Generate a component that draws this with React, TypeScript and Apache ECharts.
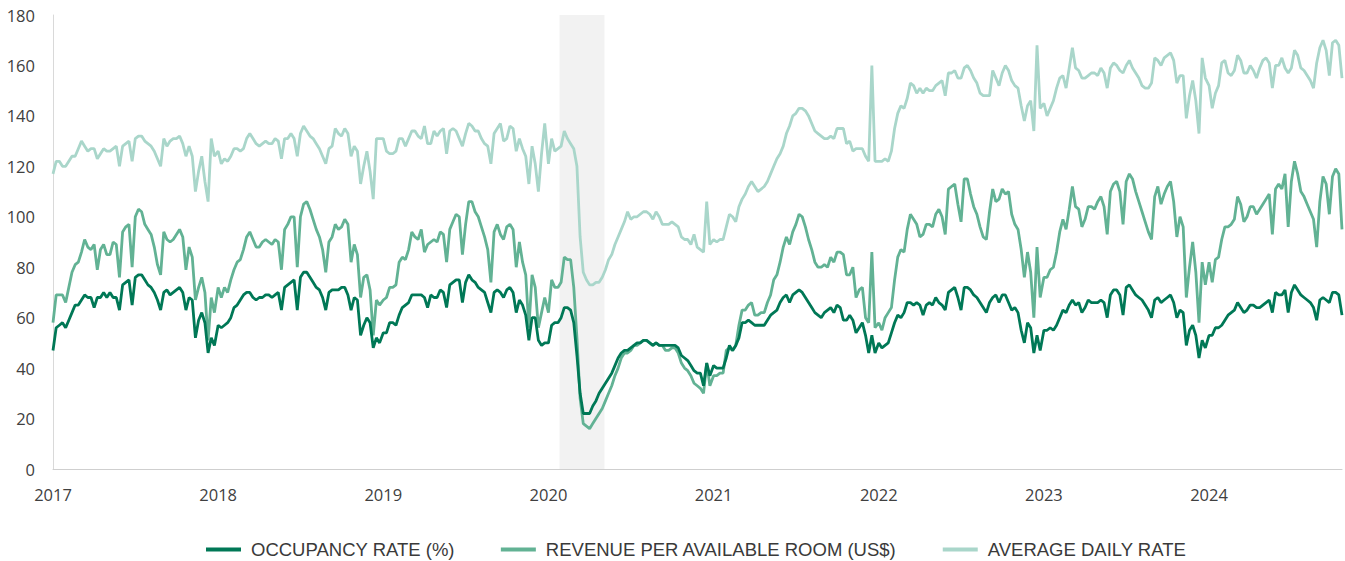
import React, { useEffect, useRef } from "react";
import * as echarts from "echarts";

// Weekly series, one array per calendar year (week index 0..51 within the year)
const years = [2017, 2018, 2019, 2020, 2021, 2022, 2023, 2024];

const occ2017 = [47,56,57,58,56,59,62,65,65,67,69,68,68,64,68,68,70,68,70,68,68,63,73,74,75,65,76,77,77,75,73,72,70,67,63,70,71,69,70,71,72,70,63,68,67,52,59,62,58,46,52,49];
const occ2018 = [57,56,57,58,60,64,65,67,69,70,70,68,67,68,68,69,69,68,69,70,63,72,73,74,75,63,76,78,78,76,74,72,71,68,63,70,71,71,71,72,72,69,63,68,67,53,57,60,58,48,52,50];
const occ2019 = [54,54,58,58,57,61,64,65,66,69,69,69,69,68,64,69,68,68,71,70,64,73,74,75,75,66,74,77,75,74,72,71,70,66,62,70,71,70,68,71,72,70,62,67,65,61,51,60,60,51,49,50];
const occ2020 = [50,57,58,58,60,64,64,63,58,45,30,22,22,22,25,27,30,32,34,36,38,41,44,46,47,47,48,49,50,50,51,51,50,49,50,49,49,49,49,49,49,48,45,44,43,41,39,38,38,33,42,37];
const occ2021 = [41,40,40,40,44,49,47,49,52,58,58,59,58,57,57,57,57,59,61,62,63,66,68,69,66,69,70,71,70,68,66,64,62,61,60,62,63,64,62,65,64,59,59,61,59,54,56,58,53,46,53,46];
const occ2022 = [50,48,49,50,54,58,61,60,62,66,66,65,66,65,61,65,66,65,68,66,65,63,70,71,72,68,63,72,72,71,69,68,66,64,62,66,68,69,66,69,69,66,63,64,62,55,50,58,56,46,53,47];
const occ2023 = [55,55,56,55,57,60,63,62,65,67,65,66,62,64,67,66,66,66,67,66,60,69,71,71,69,61,72,73,71,69,68,67,65,63,60,67,68,66,67,68,69,66,60,63,62,49,55,57,53,44,51,48];
const occ2024 = [53,53,56,56,57,59,61,62,63,66,64,62,63,65,65,64,64,65,66,67,62,70,69,69,71,62,70,73,71,69,68,67,66,64,59,67,68,67,66,70,70,69,61];

const rev2017 = [58,69,69,69,66,72,78,81,82,86,91,88,87,89,79,87,89,85,85,90,89,76,94,96,97,80,100,103,102,97,95,93,88,81,77,94,91,90,91,93,95,92,79,88,84,67,72,76,70,51,68,62];
const rev2018 = [72,68,72,70,75,79,82,83,87,92,94,91,88,88,90,91,90,89,91,90,79,95,97,100,100,80,100,105,106,103,99,95,92,87,78,90,92,97,95,96,99,97,82,89,85,68,76,77,71,53,67,65];
const rev2019 = [67,68,72,72,73,82,84,83,87,94,92,91,95,86,89,90,91,90,94,93,82,95,98,101,100,85,97,106,106,102,100,96,92,87,74,94,97,93,91,96,97,95,80,90,82,77,56,77,72,56,62,68];
const rev2020 = [62,75,72,72,74,84,83,83,72,52,28,18,17,16,18,20,22,24,27,30,33,37,40,44,46,46,47,49,49,50,51,51,50,49,50,49,49,47,47,48,48,46,42,40,39,37,34,33,32,30,42,33];
const rev2021 = [37,37,38,38,47,48,47,49,57,63,63,65,66,61,61,62,62,66,69,75,77,82,88,92,89,94,97,101,100,96,91,87,82,80,80,81,80,84,82,86,86,85,77,77,80,68,71,72,60,58,86,56];
const rev2022 = [58,55,60,62,64,75,84,87,86,95,101,99,97,92,93,97,97,96,101,103,100,93,111,112,113,105,98,115,115,109,104,101,96,92,91,102,111,106,107,111,109,110,101,97,95,87,76,86,78,60,88,68];
const rev2023 = [76,76,79,80,86,94,99,95,103,112,104,103,96,99,104,104,103,106,108,104,93,110,113,114,110,97,114,117,115,110,106,102,98,94,91,108,112,105,109,112,114,106,92,100,96,68,80,90,78,58,82,73];
const rev2024 = [82,74,83,84,91,96,96,97,99,108,105,98,100,104,104,101,103,105,107,109,93,111,113,111,117,96,114,122,117,110,108,105,102,99,88,106,116,113,101,116,119,117,95];

const adr2017 = [117,122,122,120,120,122,124,124,127,130,128,126,127,127,123,125,127,126,126,127,128,120,128,129,130,122,131,132,132,130,129,128,126,123,120,131,128,130,131,131,132,129,124,128,124,110,118,124,114,106,131,124];
const adr2018 = [126,121,123,122,124,127,127,126,127,131,133,131,129,128,129,130,129,129,131,130,123,131,131,133,131,124,133,136,134,132,131,129,127,124,121,127,128,135,133,132,135,133,124,128,126,113,120,126,118,107,131,131];
const adr2019 = [131,126,125,125,126,131,131,128,131,134,134,132,131,136,129,129,134,132,134,135,125,134,135,134,131,128,133,137,136,134,134,131,129,128,121,133,135,137,130,131,136,135,126,131,127,124,113,128,121,110,125,137];
const adr2020 = [121,131,126,127,128,134,131,129,127,120,92,78,75,73,73,74,74,76,79,83,85,89,92,95,98,102,99,100,100,101,102,102,101,99,102,100,97,97,97,98,97,96,92,91,91,89,93,88,87,86,106,89];
const adr2021 = [91,90,91,91,96,101,100,98,104,107,109,112,114,112,110,111,112,114,117,120,123,125,128,133,136,140,141,143,143,142,140,137,134,133,132,131,131,132,131,135,135,135,129,130,126,127,127,127,124,122,160,122];
const adr2022 = [122,122,123,122,126,135,141,144,143,147,153,152,149,151,149,151,150,150,152,153,154,148,157,157,158,155,155,159,160,158,155,153,149,148,148,148,158,155,152,157,160,158,154,152,151,144,138,144,146,134,168,143];
const adr2023 = [145,140,143,146,151,155,156,151,159,167,159,158,155,155,156,157,157,156,159,157,151,159,161,160,158,157,160,162,159,157,155,152,151,151,153,163,162,160,163,164,165,162,153,156,156,139,148,154,146,133,163,155];
const adr2024 = [152,143,149,152,161,162,157,156,158,164,162,157,157,160,158,155,159,162,163,161,151,160,160,163,159,157,159,166,164,159,158,156,154,151,161,167,170,166,156,169,170,168,155];

const occByYear = [occ2017, occ2018, occ2019, occ2020, occ2021, occ2022, occ2023, occ2024];
const revByYear = [rev2017, rev2018, rev2019, rev2020, rev2021, rev2022, rev2023, rev2024];
const adrByYear = [adr2017, adr2018, adr2019, adr2020, adr2021, adr2022, adr2023, adr2024];

const seriesNames = ["OCCUPANCY RATE (%)", "REVENUE PER AVAILABLE ROOM (US$)", "AVERAGE DAILY RATE"];
const yTicks = [0, 20, 40, 60, 80, 100, 120, 140, 160, 180];

// Recession shading (fractional years)
const recessionStart = 2020.067;
const recessionEnd = 2020.339;

const COLORS = { occ: "#007856", rev: "#62b294", adr: "#a9d6ca" };

function toPoints(byYear: number[][]): [number, number][] {
  const out: [number, number][] = [];
  byYear.forEach((vals, yi) => {
    vals.forEach((v, w) => {
      out.push([years[yi] + (w * 7) / 365.25, v]);
    });
  });
  return out;
}

export default function App() {
  const ref = useRef<HTMLDivElement>(null);
  useEffect(() => {
    if (!ref.current) return;
    const chart = echarts.init(ref.current, undefined, { renderer: "svg" });
    const occ = toPoints(occByYear);
    const rev = toPoints(revByYear);
    const adr = toPoints(adrByYear);
    const xMax = occ[occ.length - 1][0];
    const axisFont = "'Open Sans', 'Noto Sans', sans-serif";
    const legendFont = "'Liberation Sans', Arial, sans-serif";
    chart.setOption({
      animation: false,
      backgroundColor: "#ffffff",
      grid: { left: 53, right: 3, top: 15, bottom: 92, containLabel: false },
      legend: {
        top: 535,
        left: 201,
        icon: "rect",
        itemWidth: 35,
        itemHeight: 4,
        itemGap: 46,
        data: seriesNames,
        textStyle: {
          fontFamily: legendFont,
          fontSize: 18.5,
          color: "#3a3a3a",
          padding: [0, 0, 0, 5],
        },
      },
      xAxis: {
        type: "value",
        min: years[0],
        max: xMax,
        interval: 1,
        axisLine: { show: true, lineStyle: { color: "#cfcfcf", width: 1 } },
        axisTick: { show: false },
        splitLine: { show: false },
        axisLabel: {
          showMaxLabel: false,
          margin: 17,
          fontFamily: axisFont,
          fontSize: 16.5,
          color: "#404040",
          formatter: (v: number) => (Math.abs(v - Math.round(v)) < 1e-6 ? String(Math.round(v)) : ""),
        },
      },
      yAxis: {
        type: "value",
        min: yTicks[0],
        max: yTicks[yTicks.length - 1],
        interval: 20,
        axisLine: { show: true, lineStyle: { color: "#d9d9d9", width: 1 } },
        axisTick: { show: false },
        splitLine: { show: false },
        axisLabel: { margin: 18, fontFamily: axisFont, fontSize: 16.5, color: "#404040" },
      },
      series: [
        {
          name: "recession",
          type: "line",
          data: [],
          z: 1,
          silent: true,
          markArea: {
            silent: true,
            itemStyle: { color: "#f2f2f2" },
            data: [[{ xAxis: recessionStart }, { xAxis: recessionEnd }]],
          },
        },
        {
          name: seriesNames[2],
          type: "line",
          data: adr,
          showSymbol: false,
          symbol: "none",
          z: 3,
          color: COLORS.adr,
          lineStyle: { width: 2.8, color: COLORS.adr },
        },
        {
          name: seriesNames[1],
          type: "line",
          data: rev,
          showSymbol: false,
          symbol: "none",
          z: 4,
          color: COLORS.rev,
          lineStyle: { width: 2.8, color: COLORS.rev },
        },
        {
          name: seriesNames[0],
          type: "line",
          data: occ,
          showSymbol: false,
          symbol: "none",
          z: 5,
          color: COLORS.occ,
          lineStyle: { width: 2.8, color: COLORS.occ },
        },
      ],
    });
    return () => chart.dispose();
  }, []);
  return (
    <div
      ref={ref}
      style={{ position: "fixed", left: 0, top: 0, width: 1345, height: 561, background: "#fff" }}
    />
  );
}
